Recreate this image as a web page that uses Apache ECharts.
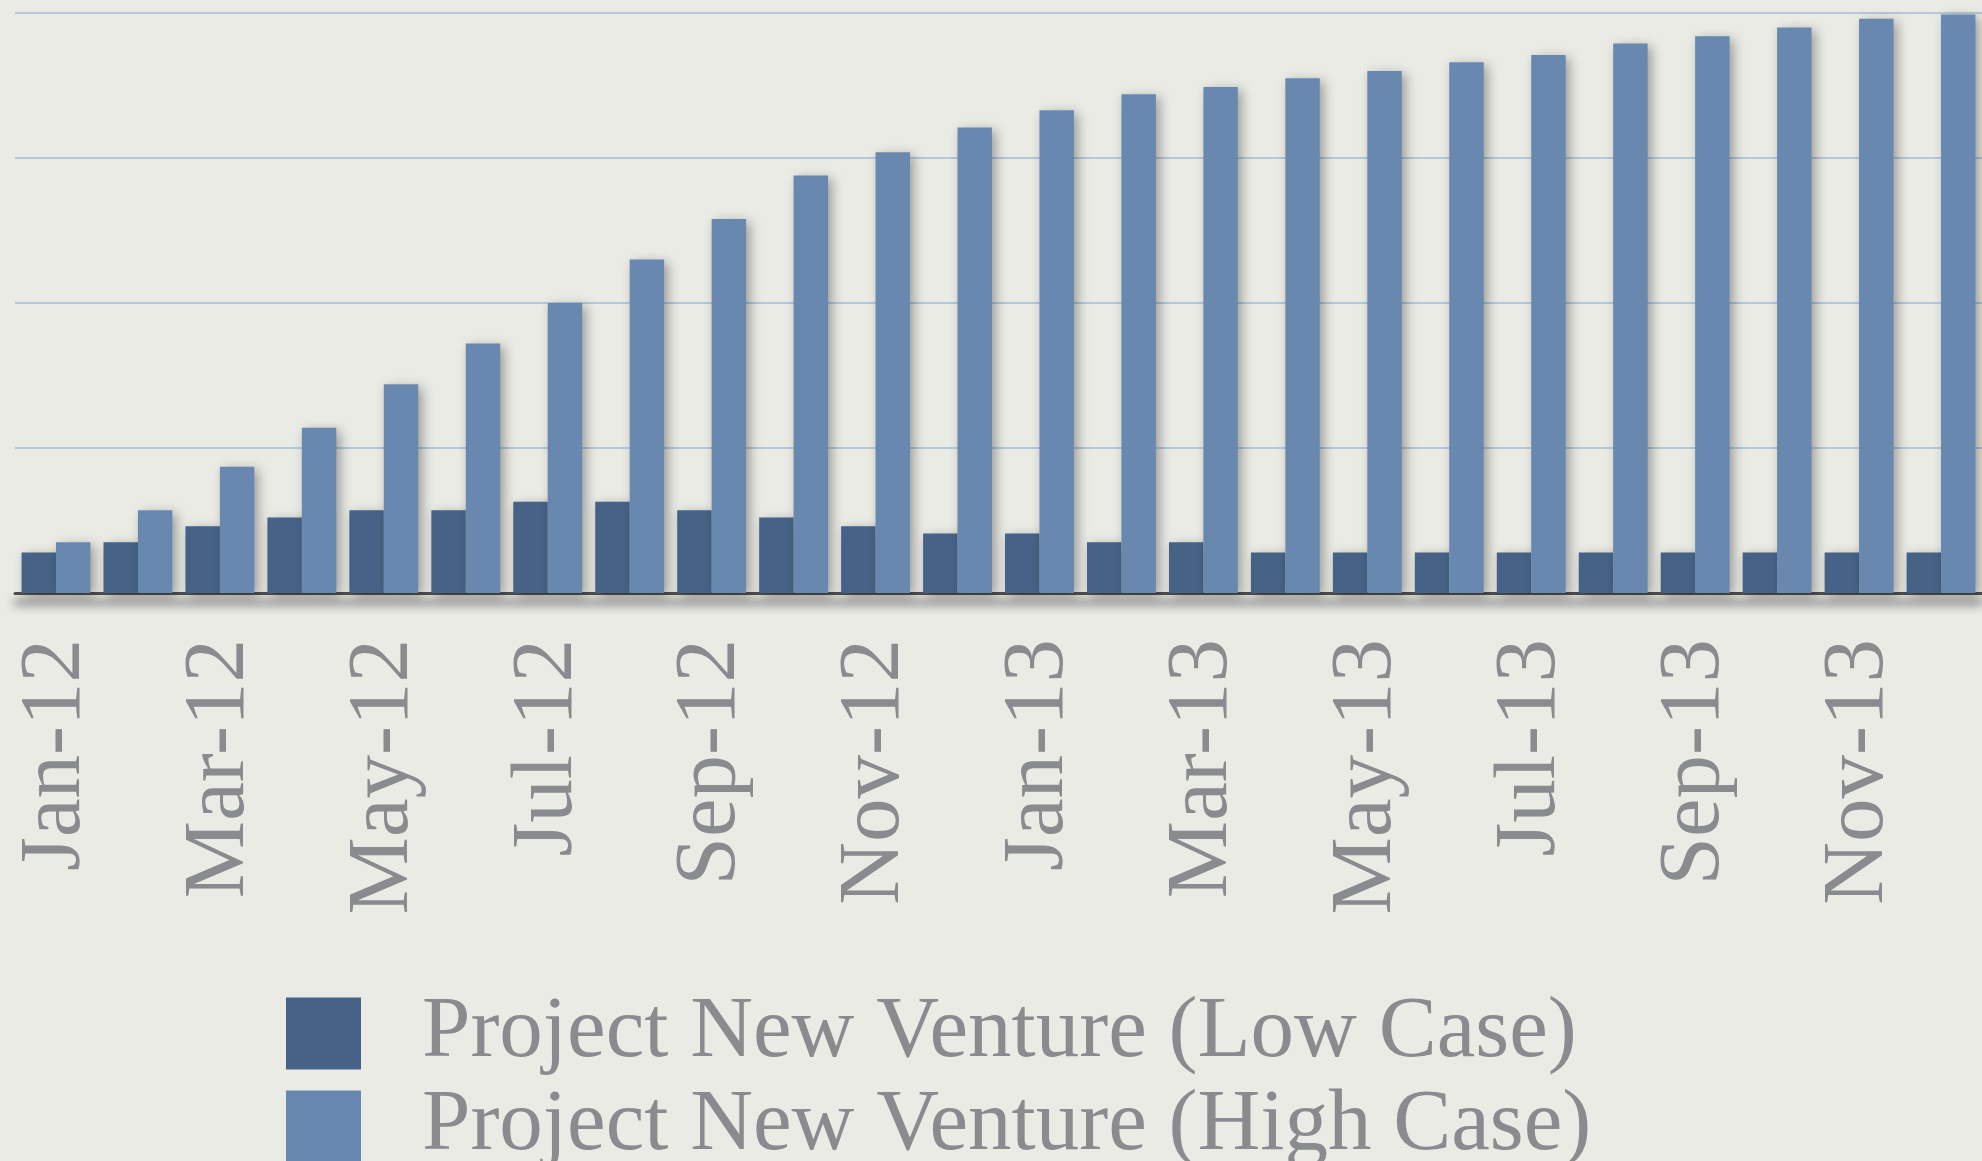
<!DOCTYPE html>
<html>
<head>
<meta charset="utf-8">
<title>Project New Venture</title>
<script src="https://cdn.jsdelivr.net/npm/echarts@6/dist/echarts.min.js"></script>
<style>
  html, body { margin: 0; padding: 0; background: #ebebe6; }
  #chart { width: 1982px; height: 1161px; }
</style>
</head>
<body>
<div id="chart"></div>
<script>
// months on the x axis
const months = ['Jan-12', 'Feb-12', 'Mar-12', 'Apr-12', 'May-12', 'Jun-12', 'Jul-12', 'Aug-12', 'Sep-12', 'Oct-12', 'Nov-12', 'Dec-12',
  'Jan-13', 'Feb-13', 'Mar-13', 'Apr-13', 'May-13', 'Jun-13', 'Jul-13', 'Aug-13', 'Sep-13', 'Oct-13', 'Nov-13', 'Dec-13']
// low case (gridline = 100)
const lowCase = [28, 35, 46, 52, 57, 57, 63, 63, 57, 52, 46, 41, 41, 35, 35, 28, 28, 28, 28, 28, 28, 28, 28, 28]
// high case
const highCase = [35, 57, 87, 114, 144, 172, 200, 230, 258, 288, 304, 321, 333, 344, 349, 355, 360, 366, 371, 379, 384, 390, 396, 399]
const seriesNames = ['Project New Venture (Low Case)', 'Project New Venture (High Case)']

const textGray = '#8a8b8f'
const barShadow = {
  shadowBlur: 12,
  shadowOffsetX: 4,
  shadowOffsetY: 3,
  shadowColor: 'rgba(0, 0, 0, 0.35)'
}

// one legend box per row, stacked by hand
function legendRow(name, top) {
  return {
    left: 286,
    top: top,
    padding: 0,
    itemWidth: 75,
    itemHeight: 72,
    icon: 'rect',
    data: [name],
    textStyle: {
      fontFamily: 'Liberation Serif',
      fontSize: 87,
      color: textGray,
      padding: [0, 0, 0, 56]
    }
  }
}

const chart = echarts.init(document.getElementById('chart'))
chart.setOption({
  backgroundColor: '#ebebe6',
  animation: false,
  grid: {
    left: 15,
    right: -3,
    top: 13,
    bottom: 568
  },
  legend: [
    legendRow(seriesNames[0], 990),
    legendRow(seriesNames[1], 1083)
  ],
  xAxis: [
    {
      type: 'category',
      data: months,
      axisLine: {
        lineStyle: {
          color: '#505050',
          width: 3,
          shadowBlur: 10,
          shadowOffsetY: 9,
          shadowColor: 'rgba(0, 0, 0, 0.85)'
        }
      },
      axisTick: {
        interval: 0,
        length: 10,
        lineStyle: { color: '#666666', width: 2.5 }
      },
      axisLabel: {
        interval: 1,
        rotate: 90,
        margin: 46,
        fontFamily: 'Liberation Serif',
        fontSize: 87,
        color: textGray
      }
    },
    {
      // second axis only for the ticks poking above the line
      type: 'category',
      data: months,
      position: 'bottom',
      axisLine: { show: false },
      axisTick: {
        interval: 0,
        inside: true,
        length: 8,
        lineStyle: { color: '#666666', width: 2.5 }
      },
      axisLabel: { show: false }
    }
  ],
  yAxis: {
    type: 'value',
    min: 0,
    max: 400,
    interval: 100,
    axisLabel: { show: false },
    axisLine: { show: false },
    axisTick: { show: false },
    splitLine: {
      lineStyle: { color: '#b3c8d9', width: 2 }
    }
  },
  series: [
    {
      name: seriesNames[0],
      type: 'bar',
      data: lowCase,
      barGap: '0%',
      barCategoryGap: '16%',
      itemStyle: Object.assign({ color: '#466387' }, barShadow)
    },
    {
      name: seriesNames[1],
      type: 'bar',
      data: highCase,
      barGap: '0%',
      barCategoryGap: '16%',
      itemStyle: Object.assign({ color: '#6888b0' }, barShadow)
    }
  ]
})
</script>
</body>
</html>
